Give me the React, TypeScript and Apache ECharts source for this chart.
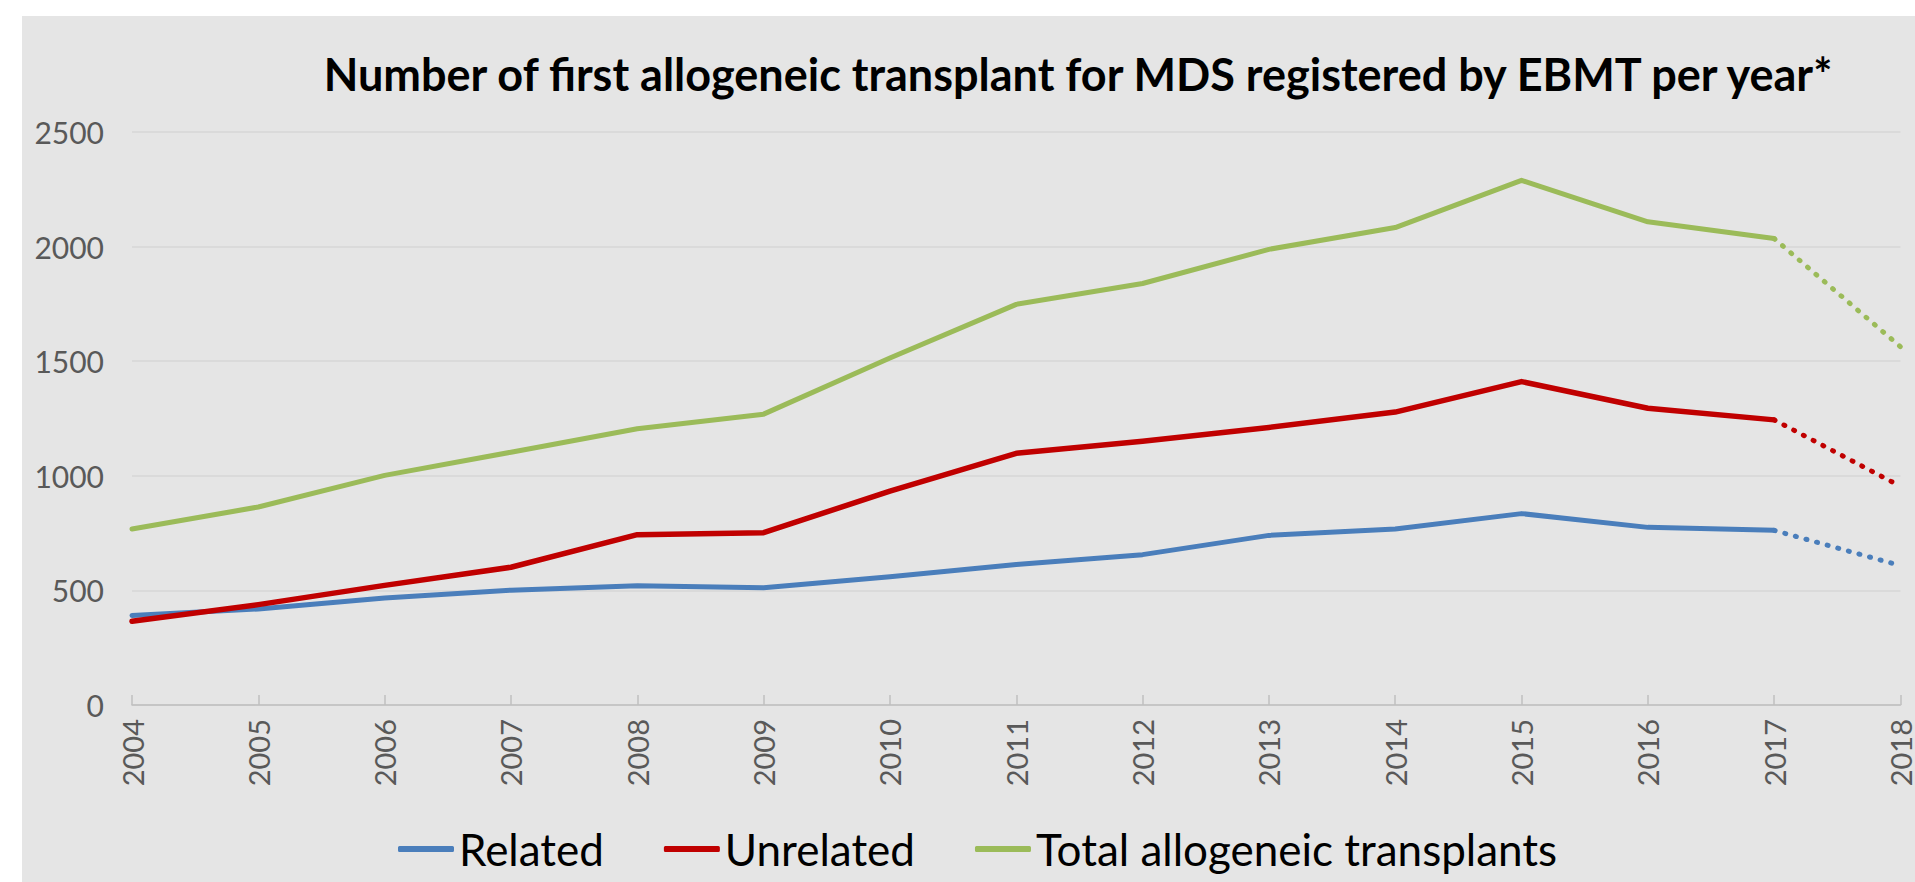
import React, { useEffect, useRef } from "react";
import * as echarts from "echarts";

const years = ["2004","2005","2006","2007","2008","2009","2010","2011","2012","2013","2014","2015","2016","2017","2018"];
const related = [391, 419, 467, 501, 520, 512, 560, 613, 656, 740, 768, 835, 775, 762, 608];
const unrelated = [365, 438, 522, 601, 743, 752, 933, 1098, 1151, 1211, 1278, 1411, 1295, 1244, 954];
const total = [768, 864, 1002, 1103, 1205, 1269, 1514, 1748, 1839, 1988, 2083, 2289, 2108, 2035, 1563];
const yTicks = [0, 500, 1000, 1500, 2000, 2500];
const titleText = "Number of first allogeneic transplant for MDS registered by EBMT per year*";
const seriesNames = ["Related", "Unrelated", "Total allogeneic transplants"];
const colors = ["#4A7EBB", "#C00000", "#9BBB59"];

const FONT = "Lato";

export default function App() {
  const ref = useRef<HTMLDivElement>(null);
  useEffect(() => {
    if (!ref.current) return;
    const chart = echarts.init(ref.current, null, { renderer: "svg" });
    const all = [related, unrelated, total];
    const solidEnd = years.indexOf("2017");
    const series: any[] = [];
    all.forEach((vals, i) => {
      series.push({
        name: seriesNames[i],
        type: "line",
        data: vals.map((v, k) => (k <= solidEnd ? v : null)),
        showSymbol: false,
        symbol: "none",
        lineStyle: { color: colors[i], width: i === 1 ? 5.5 : 5, cap: "round", join: "round" },
        itemStyle: { color: colors[i] },
        z: 3 + i,
      });
      series.push({
        name: seriesNames[i] + " (incomplete)",
        type: "line",
        data: vals.map((v, k) => (k >= solidEnd ? v : null)),
        showSymbol: false,
        symbol: "none",
        lineStyle: { color: colors[i], width: 5, type: [1, 10], cap: "round" },
        itemStyle: { color: colors[i] },
        z: 3 + i,
      });
    });
    chart.setOption({
      animation: false,
      backgroundColor: "#E5E5E5",
      textStyle: { fontFamily: FONT },
      graphic: [
        {
          type: "text",
          x: 1056,
          y: 58,
          style: {
            text: titleText,
            font: `bold 45px ${FONT}`,
            fill: "#000000",
            textAlign: "center",
            textVerticalAlign: "middle",
          },
        },
      ],
      legend: {
        data: seriesNames,
        left: 371,
        top: 803,
        icon: "roundRect",
        itemWidth: 56,
        itemHeight: 6,
        itemGap: 60,
        textStyle: { fontFamily: FONT, fontSize: 44, color: "#000000", lineHeight: 50 },
      },
      grid: { left: 110, right: 9, top: 116, bottom: 177, containLabel: false },
      xAxis: {
        type: "category",
        data: years,
        boundaryGap: false,
        axisLine: { lineStyle: { color: "#BFBFBF", width: 1.5 } },
        axisTick: { inside: true, length: 10, lineStyle: { color: "#BFBFBF", width: 1.5 } },
        axisLabel: { rotate: 90, color: "#595959", fontSize: 29, fontFamily: FONT, margin: 14 },
        splitLine: { show: false },
      },
      yAxis: {
        type: "value",
        min: yTicks[0],
        max: yTicks[yTicks.length - 1],
        interval: 500,
        axisLine: { show: false },
        axisTick: { show: false },
        axisLabel: { color: "#595959", fontSize: 30, fontFamily: FONT, margin: 28, formatter: (v: number) => String(v) },
        splitLine: { lineStyle: { color: "#D6D6D6", width: 1.5 } },
      },
      series,
    });
    return () => chart.dispose();
  }, []);
  return (
    <div style={{ position: "fixed", left: 0, top: 0, width: 1915, height: 882, background: "#FFFFFF" }}>
      <div ref={ref} style={{ position: "absolute", left: 22, top: 16, width: 1893, height: 866 }} />
    </div>
  );
}
